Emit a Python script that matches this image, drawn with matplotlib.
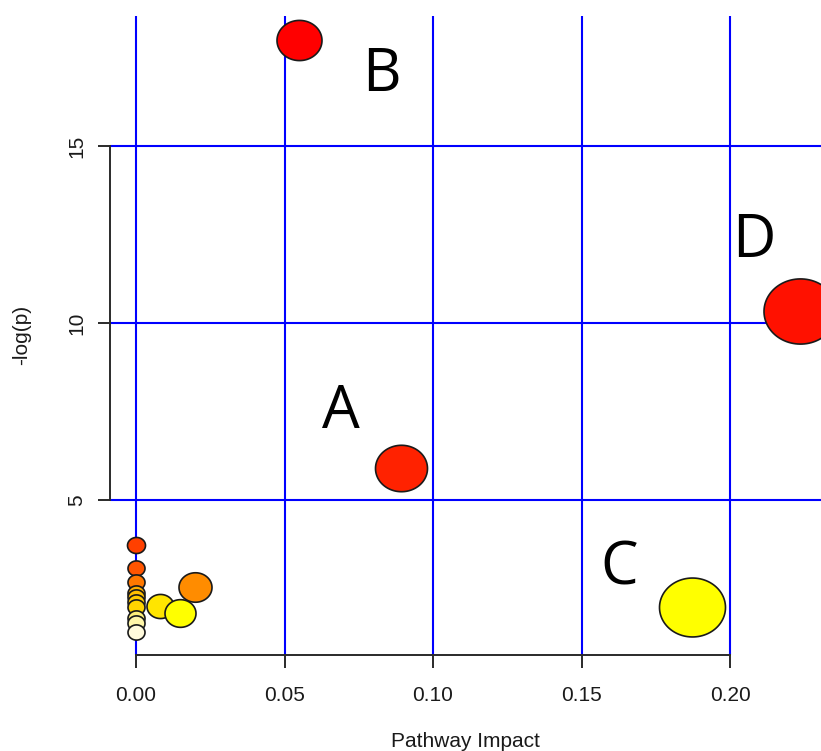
import numpy as np
import matplotlib
matplotlib.use('Agg')
import matplotlib.pyplot as plt
from matplotlib.path import Path
from matplotlib.markers import MarkerStyle

# pathway impact vs -log(p), one bubble per pathway (drawn in this order)
impact = [0.0, 0.0, 0.0, 0.0, 0.0, 0.0, 0.0, 0.0, 0.0, 0.0,
          0.0199, 0.0081, 0.0148, 0.0549, 0.0892, 0.1873, 0.2237]
logp = [3.74, 3.08, 2.70, 2.39, 2.28, 2.14, 2.00, 1.67, 1.53, 1.29,
        2.56, 2.02, 1.81, 17.99, 5.91, 2.00, 10.34]
node_colors = ['#FF4000', '#FF5500', '#FF7800', '#FFB000', '#FFC000', '#FFCB00',
               '#FFD400', '#FFF07A', '#FFF6A8', '#FFFADC',
               '#FF8C00', '#FFE500', '#FFFF00', '#FF0000', '#FF2200', '#FFFF00',
               '#FF1100']
# bubble widths in pixels
node_px = [18, 17, 17, 17, 17, 17, 17, 17, 17, 17,
           33, 27, 31, 45, 52, 66, 73]

labels = ['A', 'B', 'C', 'D']
label_x = [0.0690, 0.0827, 0.1628, 0.2081]
label_y = [7.03, 16.55, 2.63, 11.87]

xticks = [0.0, 0.05, 0.10, 0.15, 0.20]
yticks = [5, 10, 15]

plt.rcParams['font.family'] = ['Liberation Sans', 'DejaVu Sans']

fig = plt.figure(figsize=(8.21, 7.51), dpi=100)
ax = fig.add_axes([110 / 821, 96 / 751, 711 / 821, 639.3 / 751])
ax.set_xlim(-26 / 2970, 685 / 2970)
ax.set_ylim(0.637, 18.68)

# slightly wide ellipse marker
t = np.linspace(0, 2 * np.pi, 100)
oval = MarkerStyle(Path(np.column_stack([1.12 * np.cos(t), np.sin(t)]), closed=True))

for x, y, c, d in zip(impact, logp, node_colors, node_px):
    ax.scatter([x], [y], s=(d * 0.72) ** 2, marker=oval, color=c,
               edgecolors='#1a1a1a', linewidths=1.2, zorder=3)

for lab, x, y in zip(labels, label_x, label_y):
    ax.text(x, y, lab, fontsize=43, family='Open Sans', ha='center',
            va='baseline', color='black', zorder=4)

ax.set_xticks(xticks)
ax.set_xticklabels(['%.2f' % v for v in xticks])
ax.set_yticks(yticks)
ax.set_yticklabels([str(v) for v in yticks], rotation=90, va='center')
ax.grid(True, color='#0000FF', linewidth=1.5, zorder=1)
ax.set_axisbelow(True)

for side in ['top', 'right']:
    ax.spines[side].set_visible(False)
ax.spines['left'].set_bounds(5, 15)
ax.spines['bottom'].set_bounds(0, 0.2)
for side in ['left', 'bottom']:
    ax.spines[side].set_color('#2a2a2a')
    ax.spines[side].set_linewidth(1.4)
ax.tick_params(axis='both', length=9, width=1.4, color='#2a2a2a',
               labelsize=15, labelcolor='#1a1a1a')
ax.tick_params(axis='x', pad=13)
ax.tick_params(axis='y', pad=8)

ax.set_xlabel('Pathway Impact', fontsize=15, color='#1a1a1a')
ax.xaxis.set_label_coords(0.5, (655 - 746.7) / 639.3)
ax.xaxis.label.set_va('baseline')
ax.set_ylabel('-log(p)', fontsize=15, color='#1a1a1a')
ax.yaxis.set_label_coords((22 - 110) / 711, 0.5)
ax.yaxis.label.set_va('center')

fig.savefig('out.png', dpi=100)
